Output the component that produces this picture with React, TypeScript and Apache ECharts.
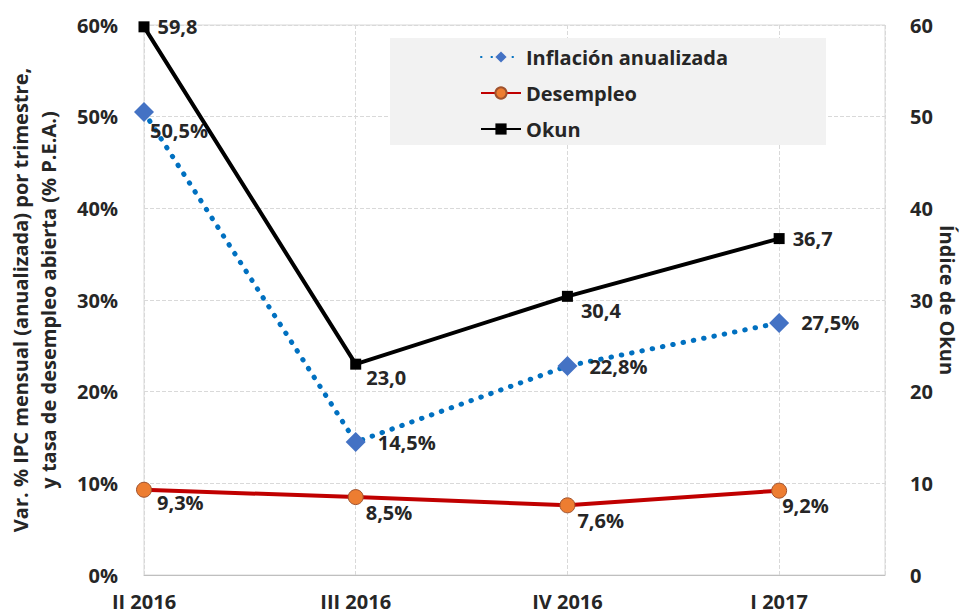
import React, { useEffect, useRef } from "react";
import * as echarts from "echarts";

const categories = ["II 2016", "III 2016", "IV 2016", "I 2017"];
const inflacion = [50.5, 14.5, 22.8, 27.5];
const desempleo = [9.3, 8.5, 7.6, 9.2];
const okun = [59.8, 23.0, 30.4, 36.7];
const leftTicks = [0, 10, 20, 30, 40, 50, 60];

const FONT = "Open Sans";
const TXT = "#262626";
const FS = 20;

const fmt = (v: number, pct: boolean) => v.toFixed(1).replace(".", ",") + (pct ? "%" : "");

const toPoints = (vals: number[]) => vals.map((v, i) => [i, v]);

export default function App() {
  const ref = useRef<HTMLDivElement>(null);
  useEffect(() => {
    if (!ref.current) return;
    const chart = echarts.init(ref.current, null, { renderer: "svg" });
    const labelBase = {
      show: true,
      fontFamily: FONT,
      fontWeight: "bold" as const,
      fontSize: FS,
      color: TXT,
      position: "right" as const,
    };
    const infLabelOffsets = [[-16, 18], [0, 0], [0, 0], [0, 0]];
    const desLabelOffsets = [[0, 13], [-3, 15], [-3, 15], [-10, 15]];
    const okunLabelOffsets = [[0, 0], [-3, 13], [0, 14], [0, 0]];
    const mk = (vals: number[], offs: number[][], pct: boolean, dist: number) =>
      toPoints(vals).map((p, i) => ({
        value: p,
        label: { ...labelBase, distance: dist, offset: offs[i], formatter: fmt(vals[i], pct) },
      }));

    chart.setOption({
      animation: false,
      grid: {
        left: 144,
        right: 78,
        top: 25,
        bottom: 40,
        outerBoundsMode: "none",
        containLabel: false,
        show: true,
        borderColor: "#d9d9d9",
        borderWidth: 1,
      },
      legend: {
        orient: "vertical",
        left: 390,
        top: 38,
        backgroundColor: "#f2f2f2",
        padding: [9, 98, 6, 90],
        itemWidth: 40,
        itemHeight: 14,
        itemGap: 16,
        textStyle: { fontFamily: FONT, fontWeight: "bold", fontSize: FS, color: TXT, lineHeight: 20 },
        data: ["Inflación anualizada", "Desempleo", "Okun"],
      },
      xAxis: {
        type: "value",
        min: 0,
        max: 3.5,
        interval: 1,
        axisLine: { show: true, lineStyle: { color: "#bfbfbf", width: 1 } },
        axisTick: { show: false },
        splitLine: { show: true, lineStyle: { color: "#d9d9d9", type: "dashed", width: 1 } },
        axisLabel: {
          margin: 16,
          fontFamily: FONT,
          fontWeight: "bold",
          fontSize: FS,
          color: TXT,
          showMaxLabel: false,
          formatter: (v: number) => (Number.isInteger(v) && categories[v] ? categories[v] : ""),
        },
      },
      yAxis: [
        {
          type: "value",
          min: leftTicks[0],
          max: leftTicks[leftTicks.length - 1],
          interval: 10,
          position: "left",
          name: "Var. % IPC mensual (anualizada) por trimestre,\ny tasa de desempleo abierta (% P.E.A.)",
          nameLocation: "middle",
          nameGap: 82,
          nameRotate: 90,
          nameTextStyle: {
            fontFamily: FONT,
            fontWeight: "bold",
            fontSize: FS,
            color: TXT,
            lineHeight: 28,
          },
          axisLine: { show: false },
          axisTick: { show: false },
          splitLine: { show: true, lineStyle: { color: "#d9d9d9", type: "dashed", width: 1 } },
          axisLabel: {
            margin: 26,
            fontFamily: FONT,
            fontWeight: "bold",
            fontSize: FS,
            color: TXT,
            formatter: (v: number) => v + "%",
          },
        },
        {
          type: "value",
          min: 0,
          max: 60,
          interval: 10,
          position: "right",
          name: "Índice de Okun",
          nameLocation: "middle",
          nameGap: 52,
          nameMoveOverlap: false,
          nameRotate: -90,
          nameTextStyle: { fontFamily: FONT, fontWeight: "bold", fontSize: FS, color: TXT },
          axisLine: { show: false },
          axisTick: { show: false },
          splitLine: { show: false },
          axisLabel: {
            margin: 25,
            fontFamily: FONT,
            fontWeight: "bold",
            fontSize: FS,
            color: TXT,
          },
        },
      ],
      series: [
        {
          name: "Inflación anualizada",
          type: "line",
          yAxisIndex: 0,
          data: mk(inflacion, infLabelOffsets, true, 12),
          symbol: "diamond",
          symbolSize: 20,
          itemStyle: { color: "#4472C4" },
          lineStyle: { color: "#0070C0", width: 5, type: [0.5, 10], cap: "round" },
          z: 3,
        },
        {
          name: "Desempleo",
          type: "line",
          yAxisIndex: 0,
          data: mk(desempleo, desLabelOffsets, true, 5),
          symbol: "circle",
          symbolSize: 15,
          itemStyle: { color: "#ED7D31", borderColor: "#A0522D", borderWidth: 1 },
          lineStyle: { color: "#C00000", width: 4 },
          z: 2,
        },
        {
          name: "Okun",
          type: "line",
          yAxisIndex: 1,
          data: mk(okun, okunLabelOffsets, false, 8),
          symbol: "rect",
          symbolSize: 11,
          itemStyle: { color: "#000000" },
          lineStyle: { color: "#000000", width: 4 },
          z: 4,
        },
      ],
    });
    return () => chart.dispose();
  }, []);
  return <div ref={ref} style={{ width: 963, height: 615, position: "absolute", left: 0, top: 0 }} />;
}
